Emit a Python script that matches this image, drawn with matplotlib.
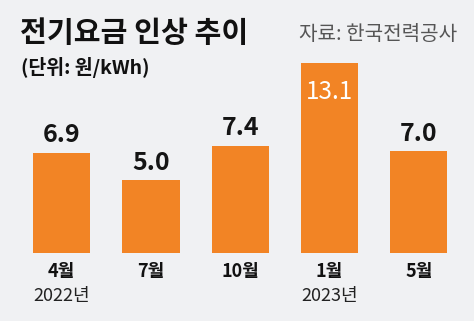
import matplotlib
matplotlib.use("Agg")
import matplotlib.pyplot as plt
import matplotlib.transforms as mtransforms

plt.rcParams['font.family'] = ['Noto Sans CJK KR', 'DejaVu Sans']

# data
months = ['4월', '7월', '10월', '1월', '5월']
years = ['2022년', '', '', '2023년', '']
increase = [6.9, 5.0, 7.4, 13.1, 7.0]

BG = '#f0f1f3'
ORANGE = '#f28425'

W, H = 474, 321
fig = plt.figure(figsize=(W / 100, H / 100), dpi=100)
fig.patch.set_facecolor(BG)

# axes placed in pixel units, converted to figure fractions
ax = fig.add_axes([17 / W, 68.3 / H, 446.5 / W, 189.4 / H])
ax.set_facecolor(BG)

x = range(len(months))
bars = ax.bar(x, increase, width=0.64, color=ORANGE)
ax.set_xlim(-0.5, len(months) - 0.5)
ax.set_ylim(0, max(increase))

for s in ax.spines.values():
    s.set_visible(False)
ax.set_yticks([])
ax.set_xticks(list(x))
ax.set_xticklabels(months, fontsize=13, fontweight='bold', color='#111111')
ax.tick_params(axis='x', length=0, pad=6.5)

# value labels: tallest one sits inside its bar in white
top = max(increase)
for i, v in enumerate(increase):
    if v == top:
        ax.annotate(f'{v:.1f}', (i, v), xytext=(0, -11), textcoords='offset points',
                    ha='center', va='top', fontsize=17.5, color='white')
    else:
        ax.annotate(f'{v:.1f}', (i, v), xytext=(0, 4), textcoords='offset points',
                    ha='center', va='bottom', fontsize=18, fontweight='bold', color='#151515')

# year labels under the month labels
trans = mtransforms.blended_transform_factory(ax.transData, ax.transAxes)
for i, y in enumerate(years):
    if y:
        ax.text(i, -0.228, y, transform=trans, ha='center', va='center',
                fontsize=13, color='#222222')

# header texts
fig.text(20 / W, 1 - 33 / H, '전기요금 인상 추이', fontsize=21, fontweight='bold',
         color='#111111', ha='left', va='center')
fig.text(21 / W, 1 - 67 / H, '(단위: 원/kWh)', fontsize=14, fontweight='bold',
         color='#111111', ha='left', va='center')
fig.text(457 / W, 1 - 35 / H, '자료: 한국전력공사', fontsize=14.5,
         color='#555555', ha='right', va='center')

fig.savefig('out.png', dpi=100, facecolor=BG)
